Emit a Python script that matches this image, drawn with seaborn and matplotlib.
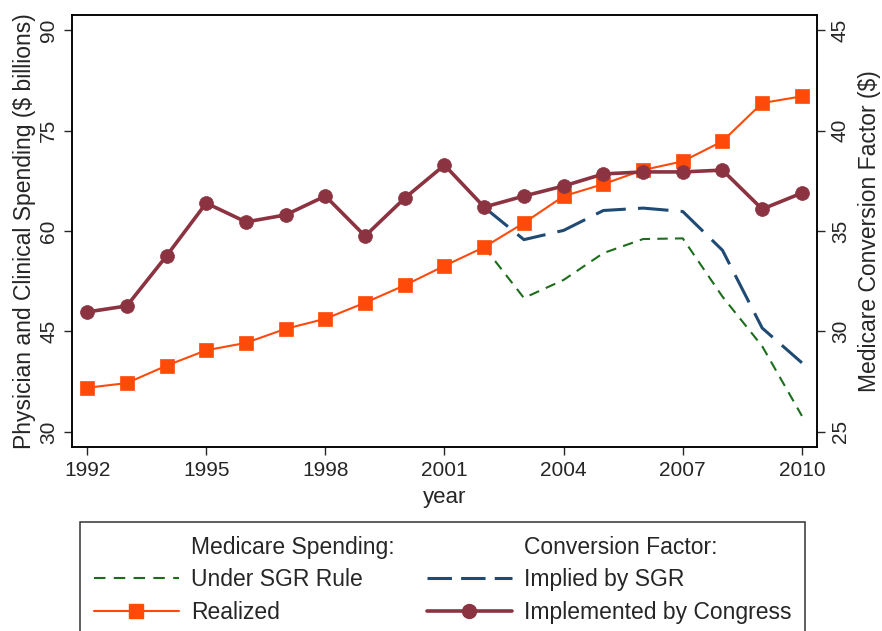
import numpy as np
import pandas as pd
import matplotlib
matplotlib.use("Agg")
import matplotlib.pyplot as plt
from matplotlib.lines import Line2D
import seaborn as sns

# data
years = list(range(1992, 2011))
realized = [36.6, 37.3, 39.9, 42.2, 43.3, 45.4, 46.9, 49.3, 51.9, 54.8,
            57.6, 61.2, 65.2, 67.0, 69.1, 70.4, 73.4, 79.1, 80.1]
congress = [30.97, 31.27, 33.76, 36.39, 35.45, 35.80, 36.74, 34.75, 36.64, 38.28,
            36.19, 36.74, 37.24, 37.84, 37.94, 37.94, 38.03, 36.09, 36.89]
sgr_years = list(range(2002, 2011))
under_sgr = [57.6, 50.0, 52.7, 56.7, 58.8, 58.9, 50.2, 42.8, 32.4]
implied_sgr = [36.18, 34.57, 35.03, 36.02, 36.14, 35.97, 34.04, 30.17, 28.44]

green = "#1a6e1a"
orange = "#ff4a0a"
navy = "#1f4a73"
maroon = "#8b3340"

sns.set_style("ticks")
plt.rcParams["font.family"] = ["Liberation Sans", "DejaVu Sans"]
plt.rcParams["axes.linewidth"] = 1.1

fig = plt.figure(figsize=(8.82, 6.31), dpi=100)
ax = fig.add_axes([72/882, 1-447/631, (817-72)/882, (447-15)/631])
ax2 = ax.twinx()

# left axis: spending
sns.lineplot(x=sgr_years, y=under_sgr, ax=ax, color=green, linewidth=1.5)
ax.lines[-1].set_dashes((5, 3.5))
sns.lineplot(x=years, y=realized, ax=ax, color=orange, linewidth=1.5,
             marker="s", markersize=10.5, markeredgecolor=orange, markeredgewidth=0.5)

# right axis: conversion factor
sns.lineplot(x=sgr_years, y=implied_sgr, ax=ax2, color=navy, linewidth=2.2)
ax2.lines[-1].set_dashes((10, 4))
sns.lineplot(x=years, y=congress, ax=ax2, color=maroon, linewidth=2.6,
             marker="o", markersize=10, markeredgecolor=maroon, markeredgewidth=0.5)

ax.set_xlim(1991.62, 2010.38)
ax.set_ylim(27.76, 92.24)
ax2.set_ylim(24.25, 45.75)
ax.set_xticks(range(1992, 2011, 3))
ax.set_yticks([30, 45, 60, 75, 90])
ax2.set_yticks([25, 30, 35, 40, 45])

ax.tick_params(axis="x", labelsize=15, length=6, width=1, pad=4)
ax.tick_params(axis="y", labelsize=15, length=6, width=1, labelrotation=90, pad=4)
ax2.tick_params(axis="y", labelsize=15, length=6, width=1, labelrotation=90, pad=4)
for t in ax.get_yticklabels() + ax2.get_yticklabels():
    t.set_va("center")

ax.set_xlabel("year", fontsize=16, labelpad=5)
ax.set_ylabel("Physician and Clinical Spending ($ billions)", fontsize=16.5, labelpad=2)
ax2.set_ylabel("Medicare Conversion Factor ($)", fontsize=16.5, labelpad=6)

for a in (ax, ax2):
    for s in a.spines.values():
        s.set_visible(True)
        s.set_color("black")

blank = Line2D([], [], color="none")
handles = [blank,
           Line2D([], [], color=green, lw=1.5, dashes=(5.5, 4)),
           Line2D([], [], color=orange, lw=1.5, marker="s", markersize=10.5),
           blank,
           Line2D([], [], color=navy, lw=2.2, dashes=(8, 3)),
           Line2D([], [], color=maroon, lw=2.6, marker="o", markersize=10)]
labels = ["Medicare Spending:", "Under SGR Rule", "Realized",
          "Conversion Factor:", "Implied by SGR", "Implemented by Congress"]
leg = fig.legend(handles, labels, ncol=2, loc="upper left",
                 bbox_to_anchor=(80/882, 1-522/631),
                 fontsize=16.5, frameon=True, fancybox=False,
                 edgecolor="black", handlelength=3.7, handletextpad=0.55,
                 labelspacing=0.42, borderpad=0.6, borderaxespad=0,
                 columnspacing=1.4)
leg.get_frame().set_linewidth(1.1)

fig.savefig("out.png", dpi=100)
